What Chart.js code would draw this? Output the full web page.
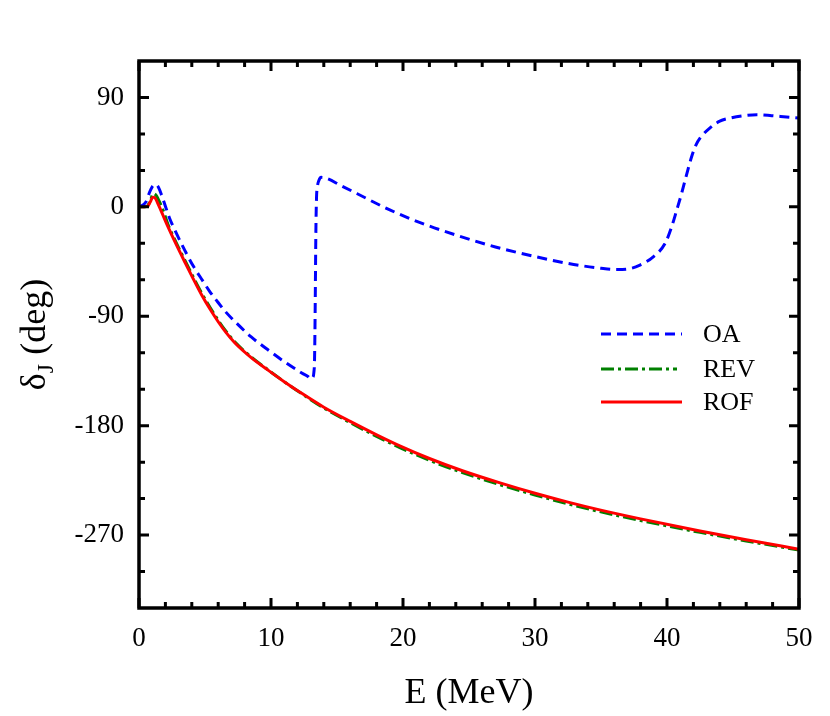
<!DOCTYPE html>
<html><head><meta charset="utf-8">
<script src="https://cdn.jsdelivr.net/npm/chart.js@4.4.1/dist/chart.umd.min.js"></script>
<style>html,body{margin:0;padding:0;background:#fff;}</style>
</head><body>
<canvas id="c" width="830" height="716"></canvas>
<script>
// ---- data ----
const xTicks = [0, 10, 20, 30, 40, 50];
const xMinorTicks = [2,4,6,8,12,14,16,18,22,24,26,28,32,34,36,38,42,44,46,48];
const yTicks = [-270, -180, -90, 0, 90];
const yMinorTicks = [-300,-240,-210,-150,-120,-60,-30,30,60];

const seriesNames = ['OA', 'REV', 'ROF'];

const oaE = [0,0.3,0.55,0.8,1.0,1.23,1.45,1.7,2.0,2.3,2.8,3.48,4.1,4.75,5.35,5.98,6.6,7.27,8.5,9.77,11,12.33,12.8,13.0,13.15,13.25,13.3,13.35,13.4,13.45,13.52,13.62,13.8,14.2,15.3,16.5,19,21.5,24.07,27,30.25,32,33.4,35,36.2,37.2,37.95,38.96,39.85,40.35,40.73,41.1,41.5,41.9,42.2,42.5,43.26,44.0,44.8,45.8,46.8,47.8,48.6,50];
const oaPhase = [0,1.5,4.5,12,16.5,18.5,16.5,10,0.5,-9,-21,-36,-48.5,-59.5,-69.5,-78.5,-86.8,-94.4,-107,-117.6,-127.3,-136.7,-139.6,-141.5,-140.5,-136,-125,-80,-20,8,17,21.5,24.3,23.5,17.5,11,-2.5,-13.8,-23.4,-33,-41.5,-45.5,-48.2,-50.5,-51.5,-50.8,-47.9,-41.1,-30.2,-16.5,-2.9,10.8,27.2,42.5,51,56.5,65,70.5,73.1,75,75.8,75.2,74.4,73.1];

const revE = [0,0.4,0.65,0.85,1.1,1.3,1.6,1.9,2.2,2.8,3.5,4.1,4.75,5.4,6.0,6.6,7.27,8.5,9.8,11,12.2,14,16,18,19.8,22,24.5,27.35,30,32.5,34.9,38,42.5,46,50];
const revPhase = [0,0,0.8,5,11,9.5,3,-5,-14.5,-29,-44.5,-57.5,-71,-83,-93.3,-102.5,-111.2,-123.5,-134.3,-143.8,-152.8,-165.5,-177.5,-188.8,-198.2,-208.5,-218.6,-228.6,-237,-244.3,-250.7,-258,-267.8,-274.8,-282.4];

const rofE = [0,0.4,0.65,0.85,1.05,1.2,1.5,1.8,2.2,2.8,3.5,4.1,4.75,5.4,6.0,6.6,7.27,8.5,9.8,11,12.2,14,16,18,19.8,22,24.5,27.35,30,32.5,34.9,38,42.5,46,50];
const rofPhase = [0,0,0.5,4,8,7.5,1,-6.5,-16.5,-30.5,-46,-59,-72.5,-84.5,-94.5,-103.5,-112,-124,-134.5,-143.8,-152.5,-164.8,-176.5,-187.5,-196.8,-207,-217.1,-227.1,-235.6,-242.9,-249.3,-256.7,-266.6,-273.8,-281.6];

const pts = (xs, ys) => xs.map((x, i) => ({x: x, y: ys[i]}));

const frame = {
  id: 'frame',
  afterDatasetsDraw(chart) {
    const ctx = chart.ctx, a = chart.chartArea;
    const sx = chart.scales.x, sy = chart.scales.y;
    ctx.save();
    ctx.strokeStyle = '#000';
    ctx.lineWidth = 3;
    ctx.lineCap = 'butt';
    ctx.beginPath();
    const tick = (x1, y1, x2, y2) => { ctx.moveTo(x1, y1); ctx.lineTo(x2, y2); };
    xTicks.forEach(v => { const p = sx.getPixelForValue(v); tick(p, a.bottom, p, a.bottom - 10); tick(p, a.top, p, a.top + 10); });
    xMinorTicks.forEach(v => { const p = sx.getPixelForValue(v); tick(p, a.bottom, p, a.bottom - 6); tick(p, a.top, p, a.top + 6); });
    yTicks.forEach(v => { const p = sy.getPixelForValue(v); tick(a.left, p, a.left + 10, p); tick(a.right, p, a.right - 10, p); });
    yMinorTicks.forEach(v => { const p = sy.getPixelForValue(v); tick(a.left, p, a.left + 6, p); tick(a.right, p, a.right - 6, p); });
    ctx.stroke();
    ctx.lineWidth = 3.5;
    ctx.strokeRect(a.left, a.top, a.right - a.left, a.bottom - a.top);

    // legend
    const ly = [334, 369, 402];
    chart.data.datasets.forEach((ds, i) => {
      ctx.beginPath();
      ctx.strokeStyle = ds.borderColor;
      ctx.lineWidth = 3;
      ctx.setLineDash(ds.borderDash || []);
      ctx.moveTo(601, ly[i]); ctx.lineTo(i === 1 ? 677 : 682, ly[i]);
      ctx.stroke();
      ctx.setLineDash([]);
      ctx.fillStyle = '#000';
      ctx.font = '26px "Liberation Serif"';
      ctx.textBaseline = 'middle';
      ctx.textAlign = 'left';
      ctx.fillText(ds.label, 703, ly[i] + 1);
    });

    // x title
    ctx.fillStyle = '#000';
    ctx.font = '36px "Liberation Serif"';
    ctx.textAlign = 'center';
    ctx.textBaseline = 'alphabetic';
    ctx.fillText('E (MeV)', (a.left + a.right) / 2, 703);

    // y title with subscript
    ctx.translate(45, (a.top + a.bottom) / 2);
    ctx.rotate(-Math.PI / 2);
    const big = '36px "Liberation Serif"', small = '24px "Liberation Serif"';
    ctx.font = big; const w1 = ctx.measureText('δ').width; const w3 = ctx.measureText(' (deg)').width;
    ctx.font = small; const w2 = ctx.measureText('J').width;
    let x0 = -(w1 + w2 + w3) / 2;
    ctx.textAlign = 'left';
    ctx.font = big; ctx.fillText('δ', x0, 0);
    ctx.font = small; ctx.fillText('J', x0 + w1, 8);
    ctx.font = big; ctx.fillText(' (deg)', x0 + w1 + w2, 0);
    ctx.restore();
  }
};

new Chart(document.getElementById('c'), {
  type: 'line',
  data: {
    datasets: [
      { label: seriesNames[0], data: pts(oaE, oaPhase), borderColor: '#0000ff', borderDash: [10, 6], order: 0 },
      { label: seriesNames[1], data: pts(revE, revPhase), borderColor: '#008000', borderDash: [13, 4, 3, 4], order: 2 },
      { label: seriesNames[2], data: pts(rofE, rofPhase), borderColor: '#ff0000', order: 1 }
    ]
  },
  options: {
    responsive: false,
    animation: false,
    devicePixelRatio: 1,
    layout: { padding: { left: 0, right: 31, top: 61, bottom: 0 } },
    plugins: { legend: { display: false }, tooltip: { enabled: false } },
    elements: { point: { radius: 0 }, line: { borderWidth: 3, cubicInterpolationMode: 'monotone', fill: false } },
    scales: {
      x: {
        type: 'linear', min: 0, max: 50,
        afterFit: s => { s.height = 108; },
        afterBuildTicks: s => { s.ticks = xTicks.map(v => ({ value: v })); },
        grid: { display: false, drawTicks: false },
        border: { display: false },
        ticks: { padding: 15, color: '#000', font: { family: 'Liberation Serif', size: 27 }, maxRotation: 0, autoSkip: false }
      },
      y: {
        type: 'linear', min: -330, max: 120,
        afterFit: s => { s.width = 139; },
        afterBuildTicks: s => { s.ticks = yTicks.map(v => ({ value: v })); },
        grid: { display: false, drawTicks: false },
        border: { display: false },
        ticks: { padding: 15, color: '#000', font: { family: 'Liberation Serif', size: 27 }, autoSkip: false }
      }
    }
  },
  plugins: [frame]
});
</script>
</body></html>
